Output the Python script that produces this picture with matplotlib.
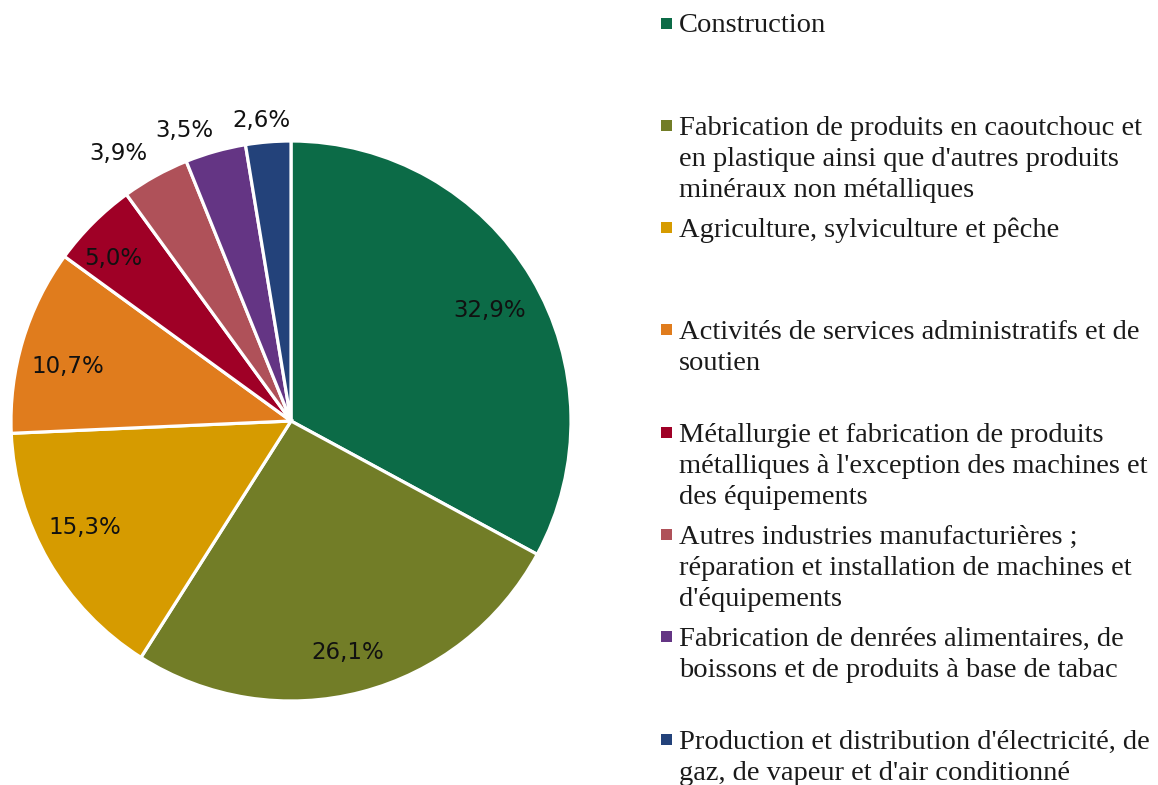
import matplotlib
matplotlib.use("Agg")
import matplotlib.pyplot as plt
from matplotlib.patches import Rectangle

# Sector shares (%)
sectors = [
    "Construction",
    "Fabrication de produits en caoutchouc et\nen plastique ainsi que d'autres produits\nminéraux non métalliques",
    "Agriculture, sylviculture et pêche",
    "Activités de services administratifs et de\nsoutien",
    "Métallurgie et fabrication de produits\nmétalliques à l'exception des machines et\ndes équipements",
    "Autres industries manufacturières ;\nréparation et installation de machines et\nd'équipements",
    "Fabrication de denrées alimentaires, de\nboissons et de produits à base de tabac",
    "Production et distribution d'électricité, de\ngaz, de vapeur et d'air conditionné",
]
shares = [32.9, 26.1, 15.3, 10.7, 5.0, 3.9, 3.5, 2.6]
pct_labels = ["32,9%", "26,1%", "15,3%", "10,7%", "5,0%", "3,9%", "3,5%", "2,6%"]

colors = ["#0c6b47", "#727d27", "#d69b00", "#e07c1d",
          "#9f0026", "#af5159", "#643584", "#23427a"]

# Label anchor points, in units of the pie radius
label_xy = [(0.711, 0.393), (0.204, -0.825), (-0.736, -0.379), (-0.796, 0.196),
            (-0.636, 0.582), (-0.618, 0.957), (-0.382, 1.039), (-0.104, 1.075)]

W, H = 1158, 785
fig = plt.figure(figsize=(W / 100, H / 100), dpi=100)
fig.patch.set_facecolor("white")

cx, cy, r = 291, 421, 280
ax = fig.add_axes([(cx - r) / W, (H - cy - r) / H, 2 * r / W, 2 * r / H])
wedges, _ = ax.pie(shares, colors=colors, startangle=90, counterclock=False,
                   radius=1.0,
                   wedgeprops=dict(edgecolor="white", linewidth=2.3))
ax.set_xlim(-1, 1)
ax.set_ylim(-1, 1)
ax.set_aspect("equal")
ax.axis("off")
for w in wedges:
    w.set_clip_on(False)

for (x, y), txt in zip(label_xy, pct_labels):
    ax.text(x, y, txt, ha="center", va="center", fontsize=16.5,
            family="DejaVu Sans", color="#111111", clip_on=False)

# Legend column: swatch + one text line per row, baselines in pixels
base0, step, line_h = 32.5, 102.3, 31.0
sq = 11
for i, (name, col) in enumerate(zip(sectors, colors)):
    yb = base0 + i * step
    fig.patches.append(Rectangle((661 / W, (H - (yb - 9.5) - sq / 2) / H),
                                 sq / W, sq / H, transform=fig.transFigure,
                                 facecolor=col, edgecolor="none"))
    for k, line in enumerate(name.split("\n")):
        fig.text(679 / W, (H - yb - k * line_h) / H, line, ha="left",
                 va="baseline", fontsize=20.5, family="Liberation Serif",
                 color="#1a1a1a")

fig.savefig("out.png", dpi=100, facecolor="white")
